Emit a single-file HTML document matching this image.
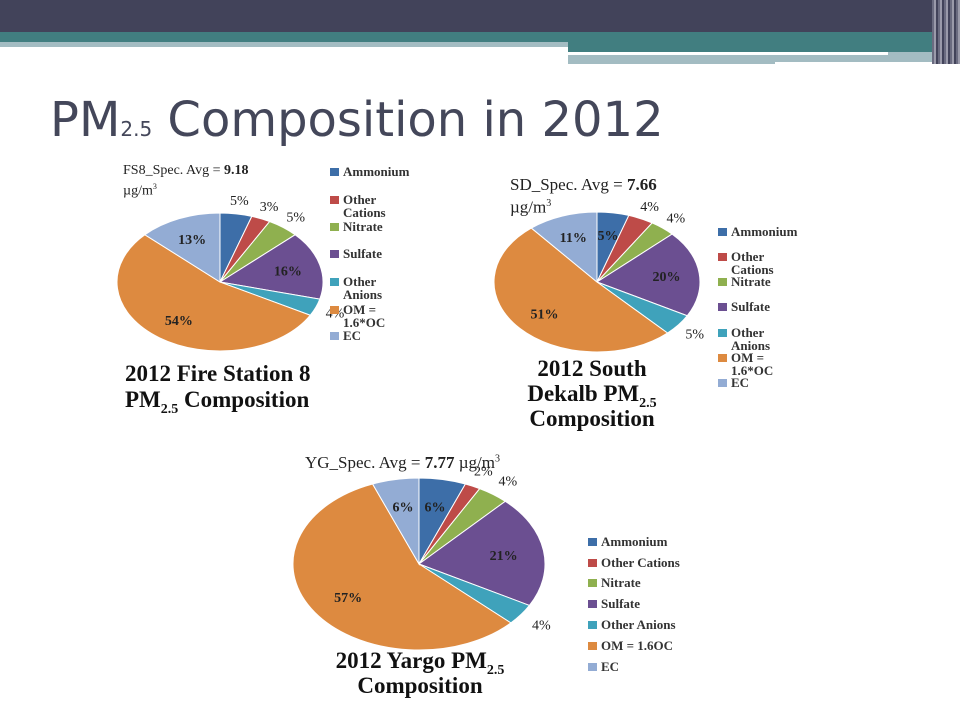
<!DOCTYPE html>
<html><head><meta charset="utf-8">
<style>
body{margin:0;width:960px;height:720px;overflow:hidden;background:#fff;font-family:"Liberation Sans",sans-serif;position:relative}
.abs{position:absolute}
.serif{font-family:"Liberation Serif",serif}
.sb{font-size:14px;line-height:0;position:relative;top:6px;vertical-align:baseline}
</style></head>
<body>
<div class="abs" style="left:0;top:0;width:960px;height:32px;background:#42435a"></div>
<div class="abs" style="left:0;top:32px;width:960px;height:10px;background:#417e80"></div>
<div class="abs" style="left:0;top:42px;width:568px;height:5px;background:#a3bcc2"></div>
<div class="abs" style="left:568px;top:42px;width:392px;height:10px;background:#417e80"></div>
<div class="abs" style="left:568px;top:52px;width:392px;height:12px;background:#a3bcc2"></div>
<div class="abs" style="left:568px;top:52px;width:320px;height:3px;background:#fff"></div>
<div class="abs" style="left:775px;top:62px;width:185px;height:4px;background:#fff"></div>
<div class="abs" style="left:932px;top:0;width:28px;height:64px;background:repeating-linear-gradient(90deg,#6a6b80 0 2px,#9a9aaa 2px 4px,#42435a 4px 6px)"></div>

<div class="abs" style="left:50px;top:92px;font-size:48px;color:#44475a;white-space:nowrap;font-family:'DejaVu Sans',sans-serif">PM<span style="font-size:20px">2.5</span> Composition in 2012</div>

<svg class="abs" style="left:0;top:0" width="960" height="720" id="chart"></svg>

<script>
const categories=["Ammonium","Other Cations","Nitrate","Sulfate","Other Anions","OM = 1.6*OC","EC"];
const colors=["#3d6ea8","#be4b48","#8fb04f","#6b4f91","#3fa2bb","#dd8a40","#93acd4"];
const fs8Values=[5,3,5,16,4,54,13];
const sdValues=[5,4,4,20,5,51,11];
const ygValues=[6,2,4,21,4,57,6];
const fs8Out=[1,1,1,0,1,0,0];
const sdOut=[0,1,1,0,1,0,0];
const ygOut=[0,1,1,0,1,0,0];
const NS="http://www.w3.org/2000/svg";
const svg=document.getElementById('chart');
function mk(t,a){const e=document.createElementNS(NS,t);for(const k in a)e.setAttribute(k,a[k]);return e;}
function pt(cx,cy,rx,ry,f,r){const a=f*2*Math.PI;return [cx+rx*r*Math.sin(a),cy-ry*r*Math.cos(a)];}
function pie(id,vals,outs,cx,cy,rx,ry){
  const total=vals.reduce((a,b)=>a+b,0);let c=0;
  vals.forEach((v,i)=>{
    const f0=c/total,f1=(c+v)/total;c+=v;
    const p0=pt(cx,cy,rx,ry,f0,1),p1=pt(cx,cy,rx,ry,f1,1);
    const large=(f1-f0)>0.5?1:0;
    const p=mk('path',{d:`M${cx},${cy}L${p0[0]},${p0[1]}A${rx},${ry} 0 ${large} 1 ${p1[0]},${p1[1]}Z`,fill:colors[i],stroke:'#fff','stroke-width':1});
    
    
    svg.appendChild(p);
    const lp=pt(cx,cy,rx,ry,(f0+f1)/2,outs[i]?1.2:0.68);
    const t=mk('text',{x:lp[0],y:lp[1]+5,'text-anchor':'middle','font-family':'Liberation Serif, serif','font-size':14,'font-weight':outs[i]?'normal':'bold',fill:'#222'});
    t.textContent=v+'%';
    
    
    svg.appendChild(t);
  });
}
pie('fs8',fs8Values,fs8Out,220,282,103,69);
pie('sd',sdValues,sdOut,597,282,103,70);
pie('yg',ygValues,ygOut,419,564,126,86);
function legend(id,x,ys,labels,fs){
  labels.forEach((lab,i)=>{
    const r=mk('rect',{x:x,y:ys[i]-8,width:9,height:8,fill:colors[i]});
    
    
    svg.appendChild(r);
    lab.split('|').forEach((ln,j)=>{
      const t=mk('text',{x:x+13,y:ys[i]+j*13,'font-family':'Liberation Serif, serif','font-size':fs,'font-weight':'bold',fill:'#333'});
      t.textContent=ln;
      
      
      svg.appendChild(t);
    });
  });
}
legend('fs8',330,[176,204,231,258,286,314,340],["Ammonium","Other|Cations","Nitrate","Sulfate","Other|Anions","OM =|1.6*OC","EC"],13);
legend('sd',718,[236,261,286,311,337,362,387],["Ammonium","Other|Cations","Nitrate","Sulfate","Other|Anions","OM =|1.6*OC","EC"],13);
legend('yg',588,[546,567,587,608,629,650,671],["Ammonium","Other Cations","Nitrate","Sulfate","Other Anions","OM = 1.6OC","EC"],13);
</script>

<div class="abs serif" style="left:123px;top:163px;font-size:14px;line-height:16px;color:#222">FS8_Spec. Avg = <b>9.18</b><br>µg/m<sup style="font-size:8px">3</sup></div>
<div class="abs serif" style="left:510px;top:175px;font-size:17px;line-height:19px;color:#222">SD_Spec. Avg = <b>7.66</b><br>µg/m<sup style="font-size:10px">3</sup></div>
<div class="abs serif" style="left:305px;top:453px;font-size:17px;color:#222;white-space:nowrap">YG_Spec. Avg = <b>7.77</b> µg/m<sup style="font-size:10px">3</sup></div>

<div class="abs serif" style="left:125px;top:361px;font-size:23px;line-height:26px;font-weight:bold;color:#111;white-space:nowrap">2012 Fire Station 8<br>PM<span class="sb">2.5</span> Composition</div>
<div class="abs serif" style="left:492px;top:356px;font-size:23px;line-height:25px;font-weight:bold;color:#111;text-align:center;width:200px">2012 South<br>Dekalb PM<span class="sb">2.5</span><br>Composition</div>
<div class="abs serif" style="left:285px;top:648px;font-size:23px;line-height:25px;font-weight:bold;color:#111;text-align:center;width:270px">2012 Yargo PM<span class="sb">2.5</span><br>Composition</div>
</body></html>
